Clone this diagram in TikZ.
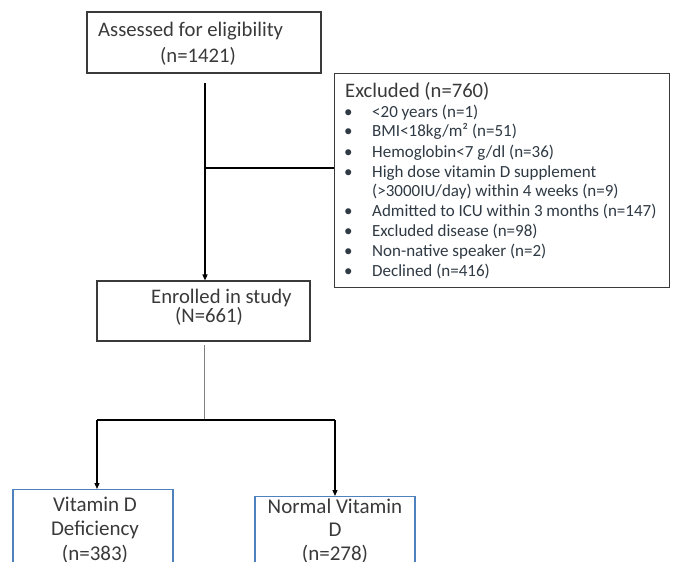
\documentclass[tikz,border=0pt]{standalone}
\usepackage{fontspec}
\setmainfont{Carlito}
\usetikzlibrary{arrows.meta}
\definecolor{txt}{HTML}{3A3A3A}
\definecolor{bltxt}{HTML}{2F3A44}
\definecolor{boxline}{HTML}{3A3A3A}
\definecolor{bluebox}{HTML}{4F81BD}
\begin{document}
\begin{tikzpicture}[x=1pt,y=-1pt,
  graybox/.style={draw=boxline,line width=1.1pt,fill=white,inner sep=0pt},
  bluebox/.style={draw=bluebox,line width=1.1pt,fill=white,inner sep=0pt},
  lbl/.style={text=txt,inner sep=0pt,anchor=base west,font=\fontsize{20.7}{24}\selectfont},
  blbl/.style={text=txt,inner sep=0pt,anchor=base,font=\fontsize{21}{24}\selectfont},
  conn/.style={draw=black,line width=1.3pt},
  arr/.style={conn,-{Triangle[length=6pt,width=5pt]}}]
\clip (0,0) rectangle (673,562);
\fill[white] (0,0) rectangle (673,562);
% boxes
\node[graybox,minimum width=234pt,minimum height=61pt] (assess) at (204,42.5) {};
\node[lbl] (assess1) at (98,36) {Assessed for eligibility};
\node[lbl] (assess2) at (160,63) {(n=1421)};
\node[graybox,minimum width=213pt,minimum height=60pt] (enrol) at (203.5,311) {};
\node[lbl] (enrol1) at (151,303) {Enrolled in study};
\node[lbl] (enrol2) at (175,322) {(N=661)};
\node[graybox,line width=0.9pt,minimum width=335pt,minimum height=214pt] (excl) at (501.5,180) {};
\node[lbl,font=\fontsize{20.6}{24}\selectfont] (exclh) at (345,97) {Excluded (n=760)};
\node[anchor=base west,inner sep=0pt,text=bltxt,font=\fontsize{17}{20}\selectfont] (exclt) at (344,117)
{\begin{tabular}[t]{@{}p{28pt}@{}l@{}}
\textbullet & <20 years (n=1)\\
\textbullet & BMI<18kg/m² (n=51)\\
\textbullet & Hemoglobin<7 g/dl (n=36)\\
\textbullet & High dose vitamin D supplement\\
 & (>3000IU/day) within 4 weeks (n=9)\\
\textbullet & Admitted to ICU within 3 months (n=147)\\
\textbullet & Excluded disease (n=98)\\
\textbullet & Non-native speaker (n=2)\\
\textbullet & Declined (n=416)
\end{tabular}};
\node[bluebox,anchor=north,minimum width=160pt,minimum height=110pt] (vdd) at (93,489) {};
\node[blbl] (vdd1) at (95,511) {Vitamin D};
\node[blbl] (vdd2) at (95,535) {Deficiency};
\node[blbl] (vdd3) at (95,560) {(n=383)};
\node[bluebox,anchor=north,minimum width=160pt,minimum height=110pt] (nvd) at (335,496) {};
\node[blbl] (nvd1) at (335,513) {Normal Vitamin};
\node[blbl] (nvd2) at (335,536) {D};
\node[blbl] (nvd3) at (335,560) {(n=278)};
% connectors
\coordinate (s1) at (205,83);
\coordinate (j1) at (205,168);
\draw[arr] (s1) -- (s1 |- enrol.north);
\draw[conn] (j1) -- (j1 -| excl.west);
\coordinate (s2) at (204,345);
\coordinate (j2) at (204,420);
\coordinate (l2) at (97,420);
\coordinate (r2) at (335,420);
\draw[conn,line width=0.7pt,draw=gray] (s2) -- (j2);
\draw[conn] (l2) -- (r2);
\draw[arr] (l2) -- (l2 |- vdd.north);
\draw[arr] (r2) -- (r2 |- nvd.north);
\end{tikzpicture}
\end{document}
